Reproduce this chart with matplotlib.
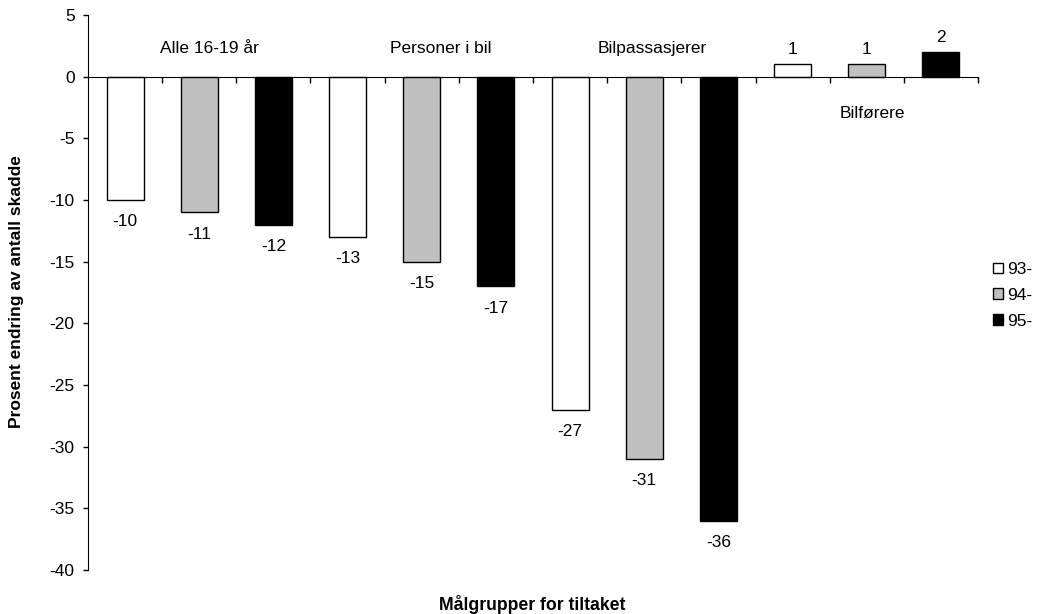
import numpy as np
import matplotlib.pyplot as plt
from matplotlib.patches import Patch

plt.rcParams['font.family'] = ['Liberation Sans', 'DejaVu Sans']
plt.rcParams['axes.unicode_minus'] = False

# data: 3 years per target group
groups = ['Alle 16-19 år', 'Personer i bil', 'Bilpassasjerer', 'Bilførere']
years = ['93-', '94-', '95-']
alle = [-10, -11, -12]
personer = [-13, -15, -17]
passasjerer = [-27, -31, -36]
forere = [1, 1, 2]
year_colors = ['white', '#c0c0c0', 'black']

values = alle + personer + passasjerer + forere
colors = year_colors * len(groups)
x = np.arange(len(values))

fs = 12.5

fig = plt.figure(figsize=(10.37, 6.14), dpi=100)
ax = fig.add_axes([88/1037, 1-570/614, 890/1037, 555/614])

ax.bar(x, values, width=0.5, color=colors, edgecolor='black', linewidth=1)

for xi, v in zip(x, values):
    off = 10.4 if v > 0 else -15.8
    ax.annotate(str(v), (xi, v), xytext=(0, off), textcoords='offset points',
                ha='center', va='center', fontsize=fs)

# group labels
label_pos = [(1.14, 2.25), (4.26, 2.25), (7.11, 2.25), (10.07, -3.0)]
for name, (lx, ly) in zip(groups, label_pos):
    ax.text(lx, ly, name, ha='center', va='center', fontsize=fs)

ax.set_xlim(-0.5, 11.5)
ax.set_ylim(-40, 5)
ax.set_yticks(np.arange(-40, 6, 5))
ax.set_xticks(np.arange(0.5, 12, 1))
ax.set_xticklabels([])
ax.tick_params(axis='x', direction='out', length=4.3, width=1)
ax.tick_params(axis='y', direction='out', length=3.6, width=1, labelsize=fs, pad=6)
ax.spines['top'].set_visible(False)
ax.spines['right'].set_visible(False)
ax.spines['bottom'].set_position(('data', 0))
ax.spines['bottom'].set_zorder(3)
ax.set_axisbelow(False)

handles = [Patch(facecolor=c, edgecolor='black', linewidth=1) for c in year_colors]
fig.legend(handles, years, loc='upper left', bbox_to_anchor=(993/1037, 1-262/614),
           frameon=False, fontsize=fs, handlelength=0.55, handleheight=0.55,
           handletextpad=0.25, labelspacing=0.62, borderpad=0, borderaxespad=0)

fig.text(17/1037, 1-292/614, 'Prosent endring av antall skadde', rotation=90,
         ha='center', va='center', fontsize=12.5, fontweight='bold')
fig.text(532/1037, 1-605/614, 'Målgrupper for tiltaket', ha='center', va='center',
         fontsize=12.7, fontweight='bold')

fig.savefig('out.png', dpi=100)
